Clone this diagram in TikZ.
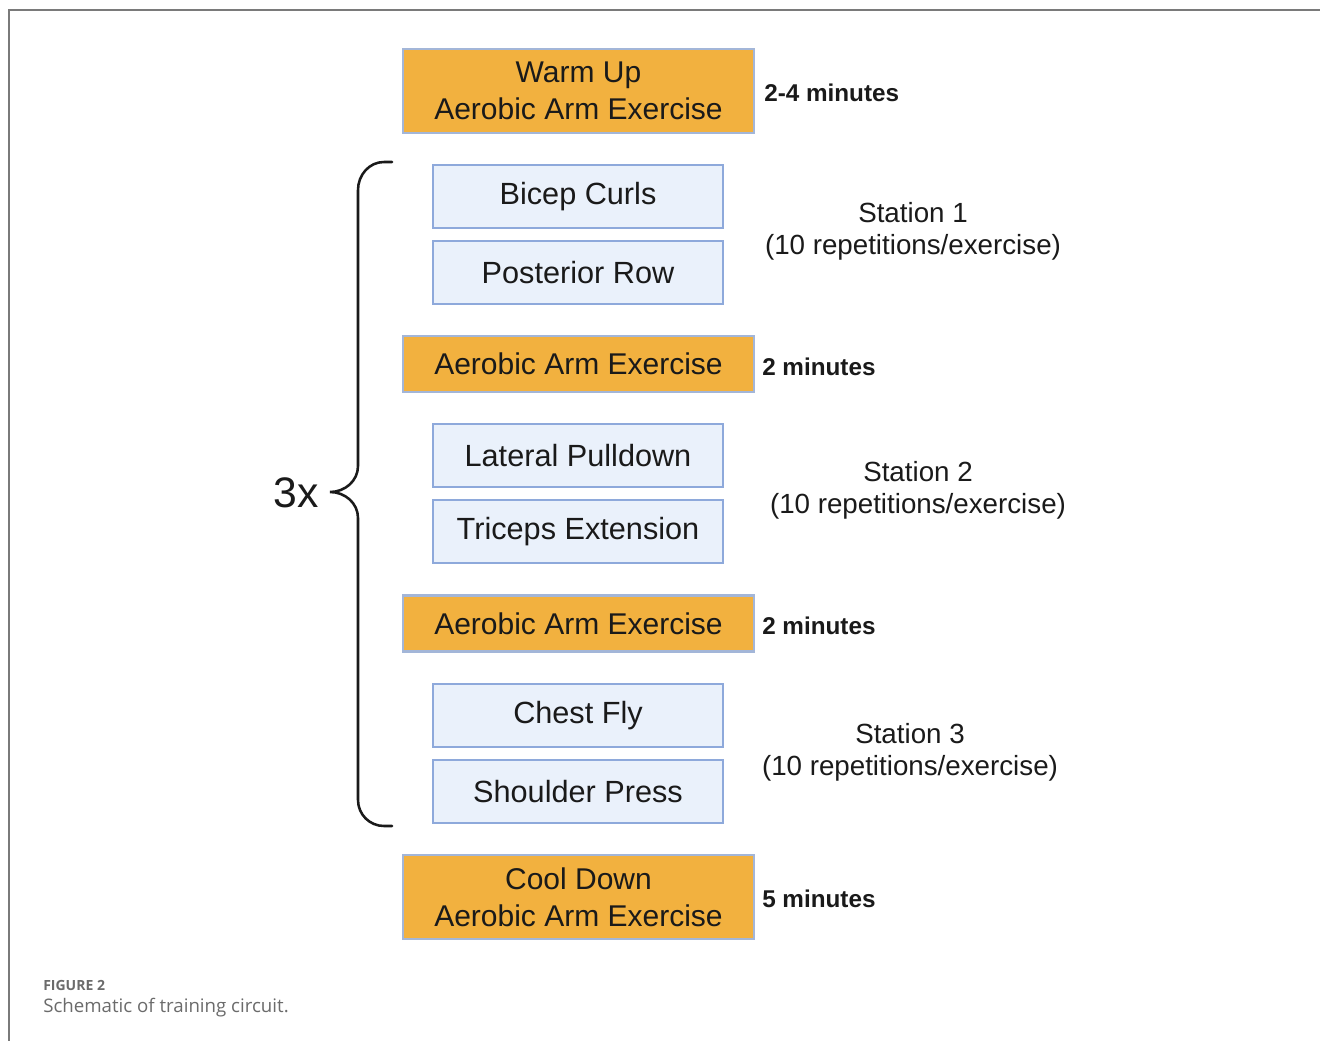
\documentclass[tikz,border=0pt]{standalone}
\usepackage{fontspec}
\setmainfont{Liberation Sans}
\newfontfamily\capfont{Open Sans}
\definecolor{orangefill}{HTML}{F2B13F}
\definecolor{orangeline}{HTML}{A3B6D8}
\definecolor{bluefill}{HTML}{EAF1FB}
\definecolor{blueline}{HTML}{8EA9DB}
\definecolor{framegray}{HTML}{7A7A7A}
\definecolor{capgray}{HTML}{6B6B6B}
\definecolor{txt}{HTML}{1A1A1A}
\begin{document}
\begin{tikzpicture}[x=0.75pt,y=-0.75pt,
  obox/.style={draw=orangeline,fill=orangefill,line width=1.8pt,minimum width=263.25pt,inner sep=0pt,align=center,text=txt,font=\fontsize{22.5}{27.75}\selectfont},
  bbox/.style={draw=blueline,fill=bluefill,line width=1.8pt,minimum width=217.5pt,minimum height=47.25pt,inner sep=0pt,align=center,text=txt,font=\fontsize{23}{27}\selectfont},
  dur/.style={anchor=west,inner sep=0pt,text=txt,font=\fontsize{18.2}{22}\selectfont\bfseries},
  stat/.style={align=center,inner sep=0pt,text=txt,font=\fontsize{20.8}{24}\selectfont},
]
\useasboundingbox (0,0) rectangle (1320,1041);
\fill[white] (0,0) rectangle (1320,1041);
% frame
\draw[framegray,line width=1pt] (9,1041) -- (9,10) -- (1320,10);
% orange boxes
\node[obox,minimum height=63pt] (warm) at (578.5,91) {Warm Up\\Aerobic Arm Exercise};
\node[obox,minimum height=42pt] (aer1) at (578.5,364) {Aerobic Arm Exercise};
\node[obox,minimum height=42pt] (aer2) at (578.5,623.5) {Aerobic Arm Exercise};
\node[obox,minimum height=63pt] (cool) at (578.5,897) {Cool Down\\Aerobic Arm Exercise};
% blue boxes
\node[bbox] (bicep) at (578,196.5) {Bicep Curls};
\node[bbox] (post) at (578,272.5) {Posterior Row};
\node[bbox] (lat) at (578,455.5) {Lateral Pulldown};
\node[bbox] (tri) at (578,531.5) {Triceps Extension};
\node[bbox] (chest) at (578,715.5) {Chest Fly};
\node[bbox] (shoul) at (578,791.5) {Shoulder Press};
% durations
\node[dur] (d1) at (764,93) {2-4 minutes};
\node[dur] (d2) at (762,367) {2 minutes};
\node[dur] (d3) at (762,626) {2 minutes};
\node[dur] (d4) at (762,899) {5 minutes};
% stations
\node[stat] (s1) at (913,231) {Station 1\\(10 repetitions/exercise)};
\node[stat] (s2) at (918,490) {Station 2\\(10 repetitions/exercise)};
\node[stat] (s3) at (910,752) {Station 3\\(10 repetitions/exercise)};
% brace
\draw[txt,line width=1.9pt,line cap=round] (392,162) -- (384,162) to[out=180,in=90] (358,190) -- (358,466) to[out=-90,in=0] (330,492) to[out=0,in=90] (358,518) -- (358,800) to[out=-90,in=180] (384,826) -- (392,826);
\node[inner sep=0pt,text=txt,font=\fontsize{32}{36}\selectfont] (three) at (296,493) {3x};
% caption
\node[anchor=west,inner sep=0pt,text=capgray,font=\capfont\fontsize{10.5}{12}\selectfont\bfseries] (fig) at (43,985) {FIGURE 2};
\node[anchor=west,inner sep=0pt,text=capgray,font=\capfont\fontsize{14}{16}\selectfont] (cap) at (43,1008) {Schematic of training circuit.};
\end{tikzpicture}
\end{document}
